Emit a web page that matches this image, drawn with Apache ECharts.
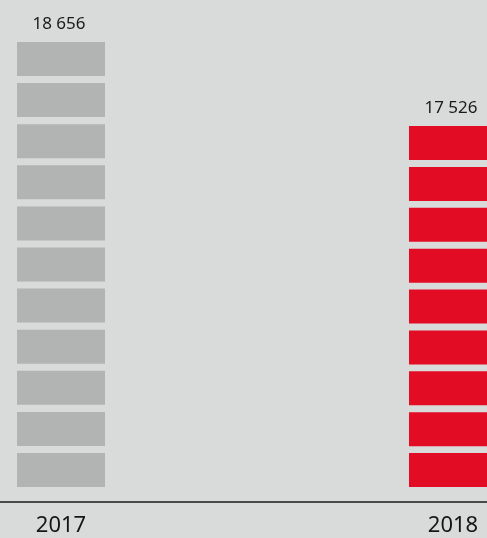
<!DOCTYPE html>
<html>
<head>
<meta charset="utf-8">
<style>
  html, body { margin: 0; padding: 0; background: #d9dbda; }
  #chart { width: 487px; height: 538px; }
</style>
<script src="https://cdn.jsdelivr.net/npm/echarts@6/dist/echarts.min.js"></script>
</head>
<body>
<div id="chart"></div>
<script>
// Yearly totals, one column of stacked blocks per year
const years = ['2017', '2018'];
const totals = [18656, 17526];
const blockColors = ['#b2b3b3', '#e30c25'];

// Value axis is truncated so the block columns keep their proportions
const axisFloor = 12670;

const BLOCK_W = 88;
const BLOCK_H = 34;
const BLOCK_GAP = 7;

const fmt = v => String(v).replace(/\B(?=(\d{3})+(?!\d))/g, ' ');

const chart = echarts.init(document.getElementById('chart'), null, { renderer: 'canvas' });

// Splits a column into equal blocks between the axis floor and its value
function renderColumn(params, api) {
  const idx = api.value(0);
  const val = api.value(1);
  const top = api.coord([idx, val]);
  const base = api.coord([idx, axisFloor]);
  const len = base[1] - top[1];
  const n = Math.max(1, Math.round((len + BLOCK_GAP) / (BLOCK_H + BLOCK_GAP)));
  const gap = n > 1 ? (len - n * BLOCK_H) / (n - 1) : 0;
  const color = blockColors[params.dataIndex];
  const children = [];
  for (let k = 0; k < n; k++) {
    children.push({
      type: 'rect',
      shape: {
        x: top[0] - BLOCK_W / 2,
        y: base[1] - (k + 1) * BLOCK_H - k * gap,
        width: BLOCK_W,
        height: BLOCK_H
      },
      style: { fill: color }
    });
  }
  children.push({
    type: 'text',
    x: top[0] - 2,
    y: top[1] - 9,
    style: {
      text: fmt(val),
      fill: '#1a1a1a',
      font: '17px "Noto Sans"',
      align: 'center',
      verticalAlign: 'bottom'
    }
  });
  return { type: 'group', children };
}

chart.setOption({
  backgroundColor: '#d9dbda',
  animation: false,
  textStyle: { fontFamily: 'Noto Sans' },
  grid: [
    { left: 61, right: 34, top: 42, bottom: 51 },
    { left: 0, right: 0, top: 42, bottom: 51 }
  ],
  xAxis: [
    {
      type: 'category',
      gridIndex: 0,
      data: years,
      boundaryGap: false,
      offset: 15,
      axisLine: { show: false },
      axisTick: { show: false },
      axisLabel: { color: '#161616', fontSize: 22, margin: 13 }
    },
    {
      type: 'value',
      gridIndex: 1,
      offset: 15,
      axisLine: { show: true, onZero: false, lineStyle: { color: '#4a4a4a', width: 2 } },
      axisTick: { show: false },
      axisLabel: { show: false },
      splitLine: { show: false }
    }
  ],
  yAxis: [
    {
      type: 'value',
      gridIndex: 0,
      min: axisFloor,
      max: Math.max(...totals),
      show: false,
      splitLine: { show: false }
    },
    { type: 'value', gridIndex: 1, show: false, splitLine: { show: false } }
  ],
  series: [
    {
      type: 'custom',
      xAxisIndex: 0,
      yAxisIndex: 0,
      renderItem: renderColumn,
      encode: { x: 0, y: 1 },
      data: totals.map((v, i) => [i, v])
    }
  ]
});
</script>
</body>
</html>
